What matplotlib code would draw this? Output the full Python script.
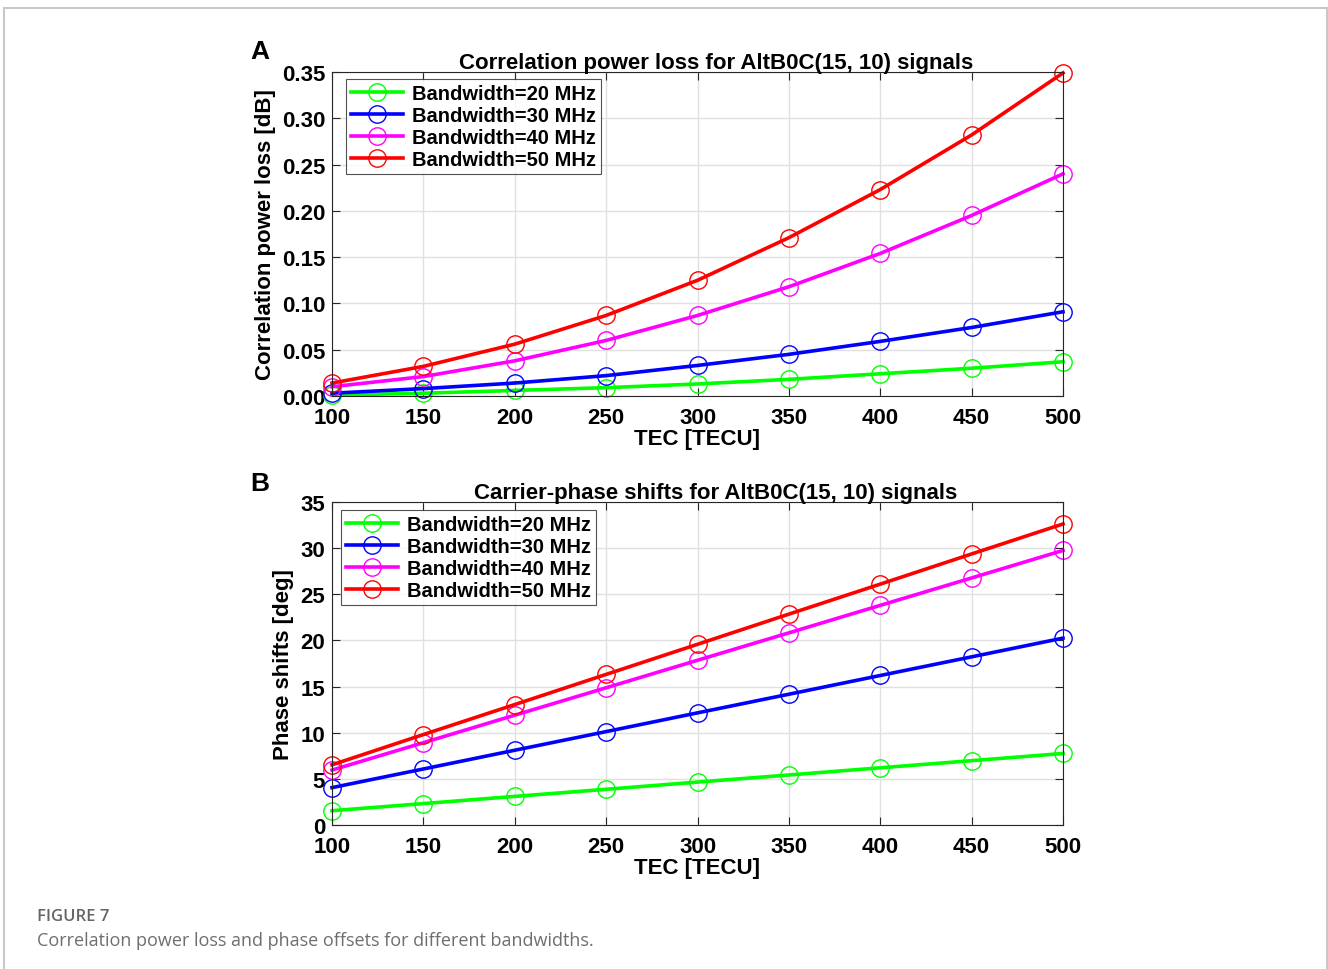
import matplotlib
matplotlib.use("Agg")
import matplotlib.pyplot as plt

# TEC values (x axis)
tec = [100, 150, 200, 250, 300, 350, 400, 450, 500]

# Panel A: correlation power loss [dB]
loss_20 = [0.001, 0.003, 0.006, 0.009, 0.013, 0.018, 0.024, 0.030, 0.037]
loss_30 = [0.003, 0.008, 0.014, 0.022, 0.033, 0.045, 0.059, 0.074, 0.091]
loss_40 = [0.010, 0.021, 0.038, 0.060, 0.087, 0.118, 0.154, 0.195, 0.240]
loss_50 = [0.014, 0.032, 0.056, 0.087, 0.125, 0.171, 0.223, 0.282, 0.349]

# Panel B: carrier-phase shifts [deg]
phase_20 = [1.55, 2.32, 3.10, 3.87, 4.65, 5.42, 6.20, 6.97, 7.75]
phase_30 = [4.05, 6.07, 8.10, 10.12, 12.15, 14.17, 16.20, 18.22, 20.25]
phase_40 = [5.95, 8.92, 11.90, 14.87, 17.85, 20.82, 23.80, 26.77, 29.75]
phase_50 = [6.52, 9.80, 13.05, 16.32, 19.58, 22.85, 26.10, 29.37, 32.62]

labels = ["Bandwidth=20 MHz", "Bandwidth=30 MHz", "Bandwidth=40 MHz", "Bandwidth=50 MHz"]
colors = ["#00ff00", "#0000ff", "#ff00ff", "#ff0000"]

plt.rcParams["font.family"] = ["Liberation Sans", "DejaVu Sans"]
plt.rcParams["font.weight"] = "bold"

W, H = 1328, 970
fig = plt.figure(figsize=(W / 100, H / 100), dpi=100)

# card border (open at the bottom)
fig.add_artist(plt.Line2D([4 / W, 4 / W], [0, 1 - 9 / H], color="#c8c8c8", lw=1.5))
fig.add_artist(plt.Line2D([1327 / W, 1327 / W], [0, 1 - 9 / H], color="#c8c8c8", lw=1.5))
fig.add_artist(plt.Line2D([4 / W, 1327 / W], [1 - 9 / H, 1 - 9 / H], color="#c8c8c8", lw=1.5))


def panel(rect, series, ylim, yticks, yfmt, title, ylabel, letter, letter_xy, legend_bbox):
    ax = fig.add_axes(rect)
    for vals, c, lab in zip(series, colors, labels):
        ax.plot(tec, vals, color=c, lw=2.6, marker="o", ms=12.5, mfc="none",
                mec=c, mew=1.0, label=lab, clip_on=False)
    ax.set_xlim(100, 500)
    ax.set_ylim(*ylim)
    ax.set_xticks(tec)
    ax.set_yticks(yticks)
    ax.set_yticklabels([yfmt.format(v) for v in yticks])
    ax.grid(True, color="#e0e0e0", lw=1.0)
    ax.set_axisbelow(True)
    ax.tick_params(direction="in", top=True, right=True, length=6, width=0.8,
                   labelsize=16, colors="#262626", labelcolor="black")
    ax.tick_params(axis="x", pad=8)
    ax.tick_params(axis="y", pad=5)
    for s in ax.spines.values():
        s.set_color("#262626")
        s.set_linewidth(0.8)
    ax.set_title(title, fontsize=16, fontweight="bold", pad=3, x=0.525)
    ax.set_xlabel("TEC [TECU]", fontsize=16, fontweight="bold", labelpad=0)
    ax.set_ylabel(ylabel, fontsize=16, fontweight="bold")
    leg = ax.legend(loc="upper left", bbox_to_anchor=legend_bbox, fontsize=14.5,
                    frameon=True, fancybox=False, edgecolor="#262626",
                    handlelength=2.6, borderpad=0.25, labelspacing=0.15,
                    handletextpad=0.45, borderaxespad=0)
    leg.get_frame().set_linewidth(0.8)
    leg.set_zorder(5)
    fig.text(letter_xy[0] / W, 1 - letter_xy[1] / H, letter, fontsize=19,
             fontweight="bold", ha="center", va="center")
    return ax


axA = panel([332 / W, 1 - 397 / H, 731 / W, 324 / H],
            [loss_20, loss_30, loss_40, loss_50], (0, 0.35),
            [0, 0.05, 0.10, 0.15, 0.20, 0.25, 0.30, 0.35], "{:.2f}",
            "Correlation power loss for AltB0C(15, 10) signals",
            "Correlation power loss [dB]", "A", (260, 52),
            ((346 - 332) / 731, (397 - 80) / 324))
axA.yaxis.set_label_coords(-0.0766, 0.5)

axB = panel([332 / W, 1 - 826 / H, 731 / W, 323 / H],
            [phase_20, phase_30, phase_40, phase_50], (0, 35),
            [0, 5, 10, 15, 20, 25, 30, 35], "{:.0f}",
            "Carrier-phase shifts for AltB0C(15, 10) signals",
            "Phase shifts [deg]", "B", (260, 484),
            ((341 - 332) / 731, (826 - 511) / 323))
axB.yaxis.set_label_coords(-0.052, 0.5)

fig.text(37 / W, 1 - 917 / H, "FIGURE 7", fontsize=12, color="#666666",
         family="Open Sans", fontweight="semibold", va="center")
fig.text(37 / W, 1 - 941 / H,
         "Correlation power loss and phase offsets for different bandwidths.",
         fontsize=13, color="#6e6e6e", family="Open Sans", fontweight="normal",
         va="center")

fig.savefig("out.png", dpi=100)
